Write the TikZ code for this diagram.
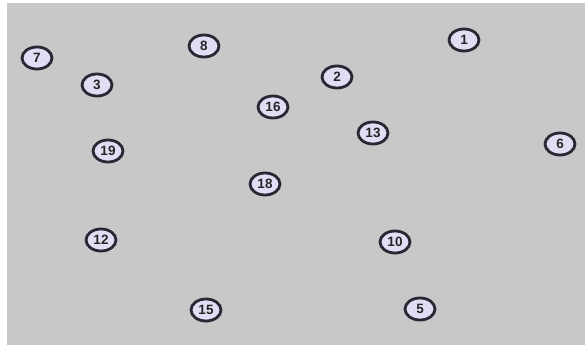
\documentclass[tikz,border=0pt]{standalone}
\usepackage{fontspec}
\setmainfont{Liberation Sans}
\usetikzlibrary{shapes.geometric}

\definecolor{bggray}{RGB}{200,200,200}
\definecolor{vfill}{RGB}{224,222,244}
\definecolor{vedge}{RGB}{40,40,52}

\begin{document}
\begin{tikzpicture}[
  x=1pt, y=-1pt,
  every node/.style={font=\fontsize{13.5}{14}\selectfont\bfseries, align=center},
  vert/.style={ellipse, draw=vedge, line width=2.8pt, fill=vfill, text=black!85,
               minimum width=30pt, minimum height=22pt, inner sep=0pt},
]
\useasboundingbox (0,0) rectangle (585,347);
\fill[bggray] (7,3) rectangle (585,345);

\node[vert] (n1)  at (464,40)  {1};
\node[vert] (n2)  at (337,77)  {2};
\node[vert] (n3)  at (97,85)   {3};
\node[vert] (n5)  at (420,309) {5};
\node[vert] (n6)  at (560,144) {6};
\node[vert] (n7)  at (37,58)   {7};
\node[vert] (n8)  at (204,46)  {8};
\node[vert] (n10) at (395,242) {10};
\node[vert] (n12) at (101,240) {12};
\node[vert] (n13) at (373,133) {13};
\node[vert] (n15) at (206,310) {15};
\node[vert] (n16) at (273,107) {16};
\node[vert] (n18) at (265,184) {18};
\node[vert] (n19) at (108,151) {19};

\end{tikzpicture}
\end{document}
